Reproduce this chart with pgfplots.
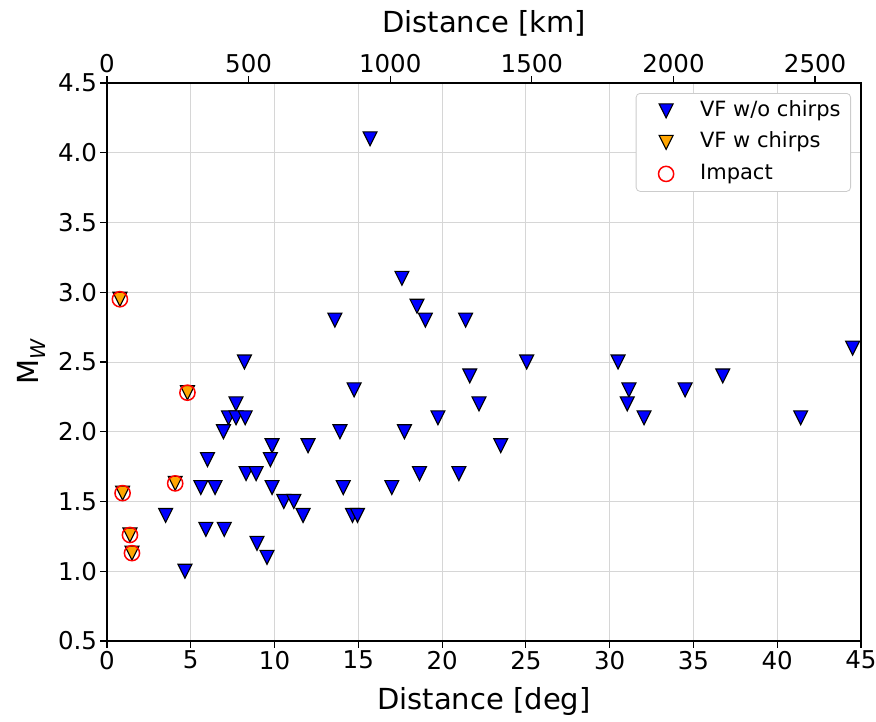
\documentclass[border=0pt]{standalone}
\usepackage{fontspec}
\setmainfont{DejaVu Sans}
\usepackage{pgfplots}
\usepackage{pgfplotstable}
\pgfplotsset{compat=1.18}

% matplotlib-like "v" marker
\pgfdeclareplotmark{vtri}{%
  \pgfpathmoveto{\pgfqpoint{0pt}{-\pgfplotmarksize}}%
  \pgfpathlineto{\pgfqpoint{-\pgfplotmarksize}{\pgfplotmarksize}}%
  \pgfpathlineto{\pgfqpoint{\pgfplotmarksize}{\pgfplotmarksize}}%
  \pgfpathclose
  \pgfusepathqfillstroke}

\definecolor{mplorange}{HTML}{FFA500}

\pgfplotstableread{
x y
15.7 4.1
17.6 3.1
18.5 2.9
13.6 2.8
19.0 2.8
21.4 2.8
8.2 2.5
25.05 2.5
30.5 2.5
44.5 2.6
21.65 2.4
36.75 2.4
14.75 2.3
31.15 2.3
34.5 2.3
7.7 2.2
22.2 2.2
31.05 2.2
7.25 2.1
7.7 2.1
8.25 2.1
19.75 2.1
32.05 2.1
41.4 2.1
6.95 2.0
13.9 2.0
17.75 2.0
9.85 1.9
12.0 1.9
23.5 1.9
6.0 1.8
9.75 1.8
8.3 1.7
8.9 1.7
18.65 1.7
21.0 1.7
5.6 1.6
6.45 1.6
9.85 1.6
14.1 1.6
17.0 1.6
10.55 1.5
11.15 1.5
3.5 1.4
11.7 1.4
14.65 1.4
14.95 1.4
5.9 1.3
7.0 1.3
8.95 1.2
9.55 1.1
4.65 1.0
}\nochirps

\pgfplotstableread{
x y
0.77 2.95
4.8 2.28
4.07 1.63
0.93 1.56
1.37 1.26
1.49 1.13
}\chirps

\begin{document}
\begin{tikzpicture}
\useasboundingbox (-107pt,-80pt) rectangle (769pt,641pt);
\begin{axis}[
  at={(0,0)}, anchor=south west,
  scale only axis, width=754pt, height=558pt,
  xmin=0, xmax=45, ymin=0.5, ymax=4.5,
  xtick={0,5,...,45},
  ytick={0.5,1,1.5,2,2.5,3,3.5,4,4.5},
  yticklabels={0.5,1.0,1.5,2.0,2.5,3.0,3.5,4.0,4.5},
  xtick pos=lower, ytick pos=left,
  tick align=outside, major tick length=6.5pt,
  every tick/.style={black, line width=1.2pt},
  axis line style={line width=1.5pt},
  grid=major,
  major grid style={draw=black!16, line width=1pt},
  ticklabel style={font=\fontsize{24.5}{28}\selectfont},
  /pgf/number format/assume math mode=true,
  xlabel={Distance [deg]},
  ylabel={M\textsubscript{\itshape W}},
  label style={font=\fontsize{29}{34}\selectfont},
  xlabel style={yshift=-11pt},
  ylabel style={yshift=6pt},
  legend cell align=left,
  legend style={at={(1,1)}, xshift=-10pt, yshift=-10pt, anchor=north east,
    draw=black!20, line width=0.8pt, rounded corners=4pt,
    font=\fontsize{21}{25}\selectfont,
    inner xsep=8pt, inner ysep=5pt, row sep=6.5pt,
    nodes={inner ysep=2pt, text height=16pt, text depth=5pt}},
  legend image code/.code={%
    \path[draw=none, fill=none] (-22pt,-9pt) rectangle (32pt,9pt);
    \draw[#1] plot coordinates {(0pt,0pt)};},
]
\addplot[only marks, mark=vtri, mark size=7pt,
  mark options={draw=black, fill=blue, line width=1.1pt}] table {\nochirps};
\addlegendentry{VF w/o chirps}
\addplot[only marks, mark=vtri, mark size=7pt,
  mark options={draw=black, fill=mplorange, line width=1.1pt}] table {\chirps};
\addlegendentry{VF w chirps}
\addplot[only marks, mark=o, mark size=7.6pt,
  mark options={draw=red, line width=1.5pt}] table {\chirps};
\addlegendentry{Impact}
\end{axis}
\begin{axis}[
  at={(0,0)}, anchor=south west,
  scale only axis, width=754pt, height=558pt,
  xmin=0, xmax=2662.1, ymin=0.5, ymax=4.5,
  axis x line*=top, axis y line=none,
  xtick={0,500,1000,1500,2000,2500},
  xticklabels={0,500,1000,1500,2000,2500},
  scaled x ticks=false,
  tick align=outside, major tick length=6.5pt,
  every tick/.style={black, line width=1.2pt},
  axis line style={line width=1.5pt},
  ticklabel style={font=\fontsize{24.5}{28}\selectfont},
  /pgf/number format/assume math mode=true,
  xlabel={Distance [km]},
  label style={font=\fontsize{29}{34}\selectfont},
  xlabel style={yshift=11pt},
]
\end{axis}
\end{tikzpicture}
\end{document}
